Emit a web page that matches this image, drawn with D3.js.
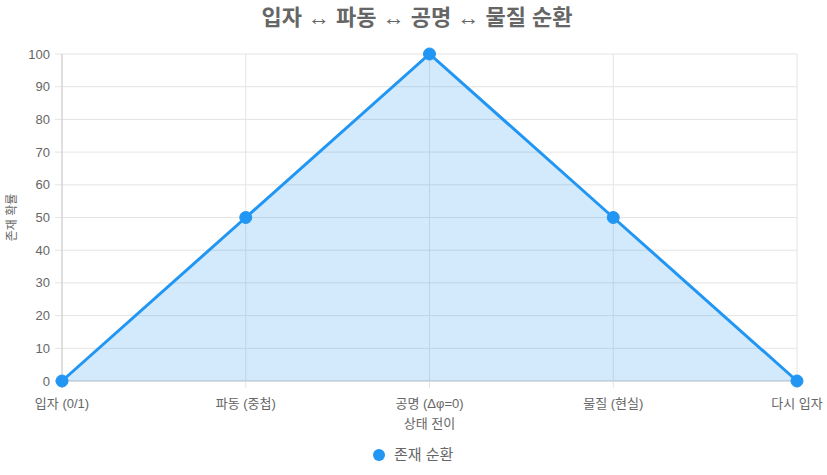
<!DOCTYPE html>
<html><head><meta charset="utf-8">
<script src="https://cdn.jsdelivr.net/npm/d3@7"></script>
<style>body{margin:0;background:#fff}svg{display:block}text{font-family:"Liberation Sans",Arial,"Noto Sans CJK KR",sans-serif}</style>
</head><body><svg id="c" width="827" height="475"></svg>
<script>
const categories = ["입자 (0/1)", "파동 (중첩)", "공명 (Δφ=0)", "물질 (현실)", "다시 입자"];
const values = [0, 50, 100, 50, 0];
const yTicks = [0,10,20,30,40,50,60,70,80,90,100];
const title = "입자 ↔ 파동 ↔ 공명 ↔ 물질 순환";
const seriesName = "존재 순환";
const xTitle = "상태 전이";
const yTitle = "존재 확률";

const svg = d3.select("#c");
const L = 62, R = 797, T = 54, B = 381;
const x = d3.scalePoint().domain(categories).range([L, R]);
const y = d3.scaleLinear().domain([0, 100]).range([B, T]);
const grid = "#e4e4e4", tc = "#666";

const g = svg.append("g");
g.selectAll(".hy").data(yTicks).join("line")
  .attr("x1", L - 7).attr("x2", R).attr("y1", d => y(d)).attr("y2", d => y(d))
  .attr("stroke", grid).attr("stroke-width", 1);
g.selectAll(".vx").data(categories).join("line")
  .attr("x1", d => x(d)).attr("x2", d => x(d)).attr("y1", T).attr("y2", B + 7)
  .attr("stroke", grid).attr("stroke-width", 1);
g.append("line").attr("x1", L).attr("x2", L).attr("y1", T).attr("y2", B + 7).attr("stroke", "#ccc");
g.append("line").attr("x1", L - 7).attr("x2", R).attr("y1", B).attr("y2", B).attr("stroke", "#ccc");

svg.append("g").selectAll("text").data(yTicks).join("text")
  .attr("x", L - 12).attr("y", d => y(d)).attr("dy", "0.35em")
  .attr("text-anchor", "end").attr("fill", tc).attr("font-size", 13).text(d => d);
svg.append("g").selectAll("text").data(categories).join("text")
  .attr("x", d => x(d)).attr("y", 403).attr("dy", "0.35em")
  .attr("text-anchor", "middle").attr("fill", tc).attr("font-size", 13).text(d => d);

svg.append("text").attr("x", (L + R) / 2).attr("y", 423).attr("dy", "0.35em")
  .attr("text-anchor", "middle").attr("fill", tc).attr("font-size", 13).text(xTitle);
svg.append("text").attr("transform", `translate(12,${(T + B) / 2}) rotate(-90)`).attr("dy", "0.35em")
  .attr("text-anchor", "middle").attr("fill", tc).attr("font-size", 12).text(yTitle);

const rows = categories.map((c, i) => ({c, v: values[i]}));
svg.append("path").datum(rows)
  .attr("d", d3.area().x(d => x(d.c)).y0(y(0)).y1(d => y(d.v)))
  .attr("fill", "rgba(33,150,243,0.2)");
svg.append("path").datum(rows)
  .attr("d", d3.line().x(d => x(d.c)).y(d => y(d.v)))
  .attr("fill", "none").attr("stroke", "#2196F3").attr("stroke-width", 3);
svg.append("g").selectAll("circle").data(rows).join("circle")
  .attr("cx", d => x(d.c)).attr("cy", d => y(d.v)).attr("r", 6)
  .attr("fill", "#2196F3").attr("stroke", "#2196F3").attr("stroke-width", 1);

svg.append("text").attr("x", 417).attr("y", 17).attr("dy", "0.35em")
  .attr("text-anchor", "middle").attr("fill", tc).attr("font-size", 22).attr("font-weight", "bold").text(title);

svg.append("circle").attr("cx", 379).attr("cy", 455).attr("r", 6).attr("fill", "#2196F3");
svg.append("text").attr("x", 394).attr("y", 455).attr("dy", "0.35em").attr("fill", tc).attr("font-size", 15).text(seriesName);
</script></body></html>
